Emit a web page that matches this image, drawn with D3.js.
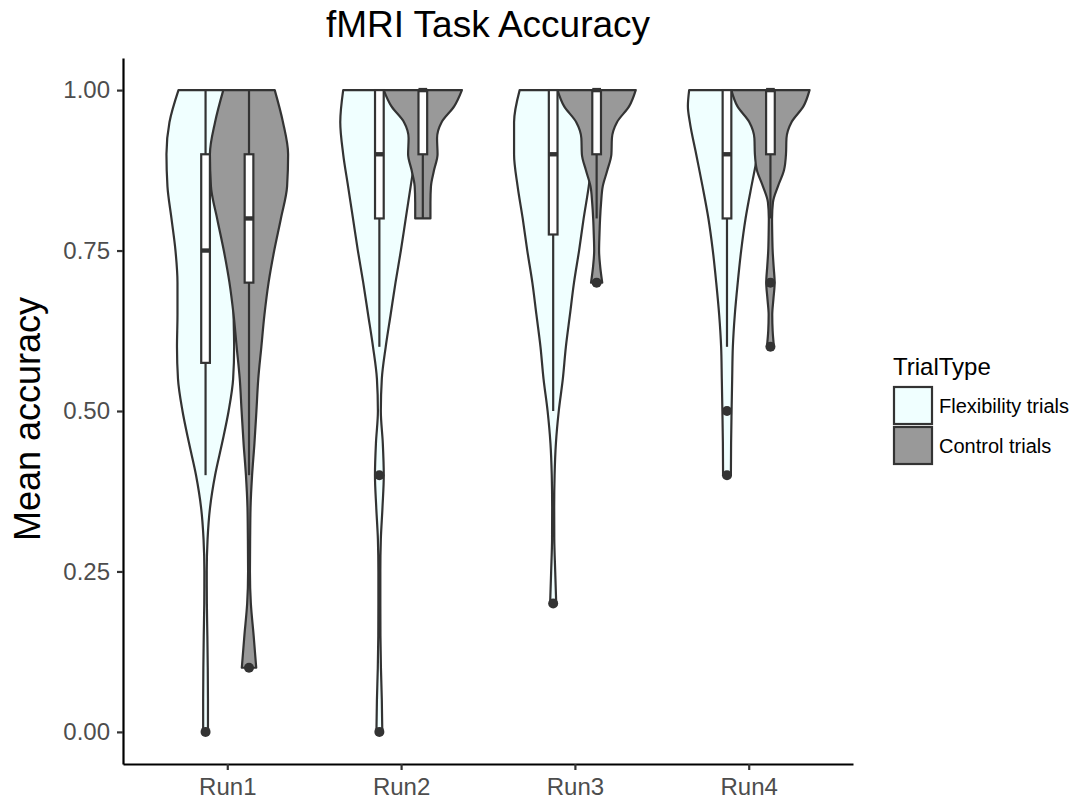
<!DOCTYPE html>
<html>
<head>
<meta charset="utf-8">
<script src="https://cdn.jsdelivr.net/npm/d3@7"></script>
<style>
  body { margin: 0; background: #ffffff; }
  svg { display: block; }
  text { font-family: "Liberation Sans", Arial, Helvetica, sans-serif; }
</style>
</head>
<body>
<svg id="chart" width="1079" height="804"></svg>
<script>
// ---- data -------------------------------------------------------------
const runs = ["Run1", "Run2", "Run3", "Run4"];
const trialTypes = ["Flexibility trials", "Control trials"];
const yTicks = [0, 0.25, 0.5, 0.75, 1];

// Violin outlines: [mean accuracy, relative density]; each violin is
// scaled to its own maximum (equal maximum width for all violins).
const run1Flexibility = [[1.00,27],[0.95,36],[0.90,39],[0.85,38],[0.80,34],[0.75,30],[0.70,28],[0.65,28],[0.60,28.5],[0.55,27.5],[0.50,23],[0.45,16.5],[0.40,9.5],[0.35,4.5],[0.30,2],[0.25,1.2],[0.20,1.3],[0.15,1.8],[0.10,2.2],[0.05,2.4],[0.00,2.4]];
const run1Control = [[1.00,25],[0.95,33],[0.90,38],[0.85,37],[0.80,31],[0.75,24.5],[0.70,19],[0.65,15],[0.60,12],[0.55,9],[0.50,7.2],[0.45,5.3],[0.40,3],[0.35,1.5],[0.30,1.1],[0.25,0.9],[0.20,1.8],[0.15,4.5],[0.10,7]];
const run2Flexibility = [[1.00,37],[0.95,40],[0.90,37],[0.85,32],[0.80,27],[0.75,22],[0.70,16.5],[0.65,11.5],[0.60,6.5],[0.55,2.5],[0.50,1.5],[0.45,3.5],[0.40,4.5],[0.35,3.2],[0.30,1.5],[0.25,1],[0.20,1],[0.15,1.1],[0.10,1.6],[0.05,2.5],[0.00,3]];
const run2Control = [[1.000,38.5],[0.975,31],[0.950,18.5],[0.925,14],[0.900,14.5],[0.875,11],[0.850,8],[0.825,7.5],[0.800,7.5]];
const run3Flexibility = [[1.00,33],[0.95,38.5],[0.90,38.5],[0.85,35],[0.80,30],[0.75,25.5],[0.70,20.5],[0.65,16.5],[0.60,12.5],[0.55,9.5],[0.50,5.5],[0.45,2.7],[0.40,1.4],[0.35,1],[0.30,1.1],[0.25,2],[0.20,3]];
const run3Control = [[1.000,38.4],[0.975,32],[0.950,20],[0.925,15],[0.900,14.5],[0.875,10.5],[0.850,6],[0.825,4.4],[0.800,3.4],[0.775,2.8],[0.750,2.4],[0.725,3.5],[0.700,5.5]];
const run4Flexibility = [[1.00,38.7],[0.975,40],[0.95,38],[0.90,31.5],[0.85,25],[0.80,19],[0.75,14.5],[0.70,11],[0.65,8],[0.60,6],[0.55,5.3],[0.50,4.7],[0.45,4.2],[0.40,4]];
const run4Control = [[1.000,39],[0.975,33],[0.950,21],[0.925,16],[0.900,15.5],[0.875,13.5],[0.850,7.5],[0.825,2.5],[0.800,1.6],[0.775,1.8],[0.750,2.2],[0.725,3.2],[0.700,4.2],[0.675,3],[0.650,1.8],[0.625,2.2],[0.600,3.5]];

// Box plot statistics, in group order Run1 flex, Run1 control, Run2 flex, ...
const groupRun = ["Run1", "Run1", "Run2", "Run2", "Run3", "Run3", "Run4", "Run4"];
const groupType = ["Flexibility trials", "Control trials", "Flexibility trials", "Control trials",
                   "Flexibility trials", "Control trials", "Flexibility trials", "Control trials"];
const whiskerLow    = [0.40, 0.40, 0.60, 0.80, 0.50, 0.80, 0.60, 0.80];
const lowerQuartile = [0.575, 0.70, 0.80, 0.90, 0.775, 0.90, 0.80, 0.90];
const medians       = [0.75, 0.80, 0.90, 1.00, 0.90, 1.00, 0.90, 1.00];
const upperQuartile = [0.90, 0.90, 1.00, 1.00, 1.00, 1.00, 1.00, 1.00];
const whiskerHigh   = [1.00, 1.00, 1.00, 1.00, 1.00, 1.00, 1.00, 1.00];
const outliers      = [[0.0], [0.1], [0.4, 0.0], [], [0.2], [0.7], [0.5, 0.4], [0.7, 0.6]];
const profiles = [run1Flexibility, run1Control, run2Flexibility, run2Control,
                  run3Flexibility, run3Control, run4Flexibility, run4Control];

// ---- styling ----------------------------------------------------------
const fillColor = d3.scaleOrdinal().domain(trialTypes).range(["#F0FFFF", "#999999"]);
const ink = "#333333";

const groups = groupRun.map((run, i) => ({
  run, type: groupType[i], profile: profiles[i],
  lo: whiskerLow[i], q1: lowerQuartile[i], med: medians[i],
  q3: upperQuartile[i], hi: whiskerHigh[i], out: outliers[i]
}));

// ---- scales -----------------------------------------------------------
const svg = d3.select("#chart");
const panel = { left: 123, right: 853, top: 58, bottom: 764 };

const x = d3.scalePoint().domain(runs).range([panel.left, panel.right]).padding(0.6);
const y = d3.scaleLinear().domain([-0.05, 1.05]).range([panel.bottom, panel.top]);
const step = x.step();
const dodge = d3.scalePoint().domain(trialTypes).range([-step * 0.125, step * 0.125]);
const violinHalf = step * 0.225;
const boxHalf = step * 0.025;

const cx = g => x(g.run) + dodge(g.type);

// ---- violins ----------------------------------------------------------
const violinLayer = svg.append("g");
groups.forEach(g => {
  const maxD = d3.max(g.profile, d => d[1]);
  const w = d3.scaleLinear().domain([0, maxD]).range([0, violinHalf]);
  const c = cx(g);
  const area = d3.area()
    .curve(d3.curveMonotoneY)
    .y(d => y(d[0]))
    .x0(d => c - w(d[1]))
    .x1(d => c + w(d[1]));
  violinLayer.append("path")
    .attr("d", area(g.profile.slice().sort((a, b) => a[0] - b[0])))
    .attr("fill", fillColor(g.type))
    .attr("stroke", ink)
    .attr("stroke-width", 2.2)
    .attr("stroke-linejoin", "round");
});

// ---- box plots --------------------------------------------------------
const boxLayer = svg.append("g");
groups.forEach(g => {
  const c = cx(g);
  const bg = boxLayer.append("g");
  bg.append("line").attr("x1", c).attr("x2", c).attr("y1", y(g.q3)).attr("y2", y(g.hi))
    .attr("stroke", ink).attr("stroke-width", 2.2);
  bg.append("line").attr("x1", c).attr("x2", c).attr("y1", y(g.q1)).attr("y2", y(g.lo))
    .attr("stroke", ink).attr("stroke-width", 2.2);
  bg.append("rect")
    .attr("x", c - boxHalf).attr("width", boxHalf * 2)
    .attr("y", y(g.q3)).attr("height", y(g.q1) - y(g.q3))
    .attr("fill", "#ffffff").attr("stroke", ink).attr("stroke-width", 2.2);
  bg.append("line").attr("x1", c - boxHalf).attr("x2", c + boxHalf)
    .attr("y1", y(g.med)).attr("y2", y(g.med))
    .attr("stroke", ink).attr("stroke-width", 4.4);
  bg.selectAll("circle").data(g.out).join("circle")
    .attr("cx", c).attr("cy", d => y(d)).attr("r", 5)
    .attr("fill", ink);
});

// ---- axes -------------------------------------------------------------
const yAxis = svg.append("g")
  .attr("transform", `translate(${panel.left},0)`)
  .call(d3.axisLeft(y).tickValues(yTicks).tickFormat(d3.format(".2f"))
    .tickSize(6).tickSizeOuter(0).tickPadding(7));
const xAxis = svg.append("g")
  .attr("transform", `translate(0,${panel.bottom})`)
  .call(d3.axisBottom(x).tickSize(6).tickSizeOuter(0).tickPadding(8));

[yAxis, xAxis].forEach(ax => {
  ax.select(".domain").attr("stroke", "#000").attr("stroke-width", 2.2);
  ax.selectAll(".tick line").attr("stroke", ink).attr("stroke-width", 2.2);
  ax.selectAll(".tick text").attr("fill", "#4D4D4D").attr("font-size", 24)
    .attr("font-family", "'Liberation Sans', Arial, Helvetica, sans-serif");
});

// ---- titles -----------------------------------------------------------
svg.append("text")
  .attr("x", (panel.left + panel.right) / 2).attr("y", 37)
  .attr("text-anchor", "middle").attr("font-size", 37).attr("fill", "#000")
  .text("fMRI Task Accuracy");

svg.append("text")
  .attr("transform", `translate(40,419) rotate(-90)`)
  .attr("text-anchor", "middle").attr("font-size", 36).attr("fill", "#000")
  .text("Mean accuracy");

// ---- legend -----------------------------------------------------------
const legend = svg.append("g").attr("transform", "translate(893,0)");
legend.append("text").attr("x", 0).attr("y", 375)
  .attr("font-size", 24).attr("fill", "#000").text("TrialType");
const keys = legend.selectAll("g.key").data(trialTypes).join("g")
  .attr("class", "key")
  .attr("transform", (d, i) => `translate(0,${387 + i * 40})`);
keys.append("rect")
  .attr("x", 1).attr("y", 0).attr("width", 38).attr("height", 37)
  .attr("fill", d => fillColor(d)).attr("stroke", ink).attr("stroke-width", 2.2);
keys.append("text")
  .attr("x", 46).attr("y", 19).attr("dy", "0.35em")
  .attr("font-size", 20).attr("fill", "#000")
  .text(d => d);
</script>
</body>
</html>
